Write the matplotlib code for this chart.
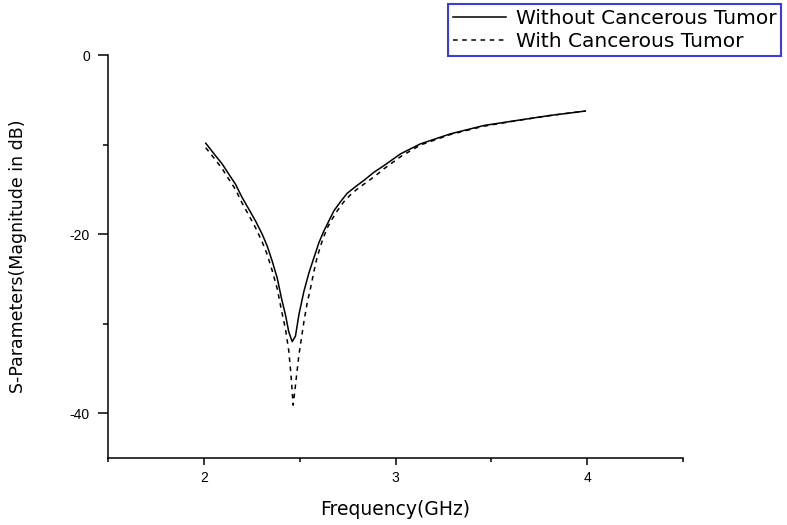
import matplotlib
matplotlib.use("Agg")
import matplotlib.pyplot as plt
from matplotlib.ticker import MultipleLocator

plt.rcParams["axes.unicode_minus"] = False

# Return loss of the antenna with and without a tumour in the phantom
freq_plain = [2.01, 2.061, 2.096, 2.13, 2.165, 2.2, 2.235, 2.27, 2.305, 2.331,
              2.357, 2.383, 2.405, 2.426, 2.443, 2.461, 2.478, 2.496, 2.522,
              2.548, 2.574, 2.6, 2.626, 2.652, 2.678, 2.713, 2.748, 2.791,
              2.835, 2.887, 2.939, 3.026, 3.13, 3.287, 3.461, 3.635, 3.809,
              3.99]
s11_plain = [-9.85, -11.24, -12.17, -13.29, -14.42, -15.92, -17.22, -18.54,
             -20.03, -21.35, -23.03, -24.91, -27.16, -29.02, -30.9, -32.0,
             -31.4, -29.0, -26.4, -24.35, -22.66, -20.98, -19.66, -18.54,
             -17.42, -16.38, -15.44, -14.7, -14.0, -13.1, -12.36, -11.04,
             -9.92, -8.80, -7.87, -7.30, -6.74, -6.26]

freq_tumor = [2.01, 2.06, 2.096, 2.13, 2.165, 2.2, 2.235, 2.27, 2.305, 2.331,
              2.357, 2.383, 2.405, 2.426, 2.443, 2.455, 2.466, 2.478, 2.496,
              2.522, 2.54, 2.557, 2.574, 2.592, 2.62, 2.644, 2.67, 2.696,
              2.73, 2.77, 2.81, 2.85, 2.9, 2.94, 3.03, 3.13, 3.29, 3.46, 3.64,
              3.81, 3.99]
s11_tumor = [-10.35, -11.7, -12.7, -13.85, -15.0, -16.55, -17.9, -19.3, -20.9,
             -22.3, -24.1, -26.1, -28.5, -30.6, -33.0, -35.8, -39.1, -36.9,
             -33.5, -29.8, -27.6, -26.0, -24.2, -22.5, -20.6, -19.3, -18.3,
             -17.4, -16.4, -15.5, -14.8, -14.2, -13.4, -12.7, -11.3, -10.05,
             -8.85, -7.95, -7.3, -6.75, -6.25]

fig = plt.figure(figsize=(7.87, 5.25), dpi=100)
ax = fig.add_axes([0.1372, 0.1276, 0.7307, 0.7676])

ax.plot(freq_plain, s11_plain, color="black", lw=1.1,
        label="Without Cancerous Tumor")
ax.plot(freq_tumor, s11_tumor, color="black", lw=1.1, ls=(0, (3, 3)),
        label="With Cancerous Tumor")

ax.set_xlim(1.5, 4.5)
ax.set_ylim(-45, 0)
ax.xaxis.set_major_locator(MultipleLocator(1))
ax.xaxis.set_minor_locator(MultipleLocator(0.5))
ax.yaxis.set_major_locator(MultipleLocator(20))
ax.yaxis.set_minor_locator(MultipleLocator(10))

for side in ["top", "right"]:
    ax.spines[side].set_visible(False)
for side in ["left", "bottom"]:
    ax.spines[side].set_linewidth(1.1)

ax.tick_params(axis="x", which="major", length=5, width=1.1, pad=4,
               labelsize=10)
ax.tick_params(axis="x", which="minor", length=3, width=1.1)
ax.tick_params(axis="y", which="major", length=7, width=1.1, pad=6,
               labelsize=10)
ax.tick_params(axis="y", which="minor", length=3.5, width=1.1)
for lbl in ax.get_xticklabels() + ax.get_yticklabels():
    lbl.set_fontfamily("Liberation Sans")

ax.set_xlabel("Frequency(GHz)", fontsize=13.5, va="center")
ax.set_ylabel("S-Parameters(Magnitude in dB)", fontsize=12.5, va="center")
ax.xaxis.set_label_coords(0.499, -0.129)
ax.yaxis.set_label_coords(-0.157, 0.5)

leg = fig.legend(loc="upper right", bbox_to_anchor=(0.993, 0.993),
                 fontsize=14.5, handlelength=2.6, handletextpad=0.5,
                 labelspacing=0.22, borderpad=0.25, borderaxespad=0,
                 fancybox=False, framealpha=1)
leg.get_frame().set_edgecolor("#3c3cdc")
leg.get_frame().set_linewidth(1.5)

fig.savefig("out.png", dpi=100)
